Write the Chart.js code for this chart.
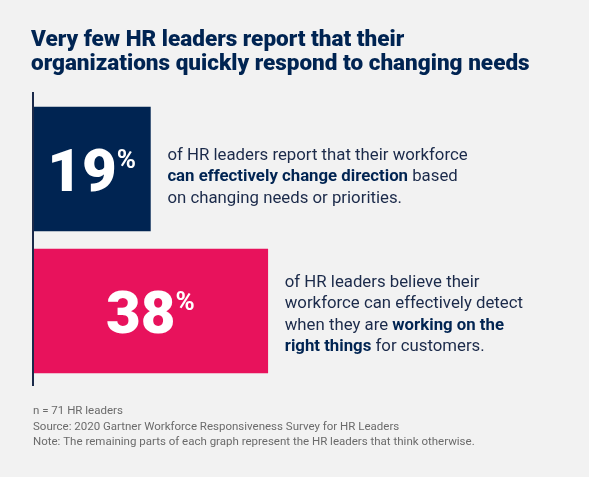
<!DOCTYPE html>
<html><head><meta charset="utf-8">
<script src="https://cdn.jsdelivr.net/npm/chart.js@4"></script>
<style>html,body{margin:0;background:#f2f2f2}#c{display:block}</style>
</head><body>
<div style="width:589px;height:477px"><canvas id="c"></canvas></div>
<script>
const categories = ['change direction', 'working on the right things'];
const values = [19, 38];
const barColors = ['#002452', '#e8125c'];
const titleLines = ['Very few HR leaders report that their', 'organizations quickly respond to changing needs'];
const descriptions = [
  [[['of HR leaders report that their workforce', false]],
   [['can effectively change direction', true], [' based', false]],
   [['on changing needs or priorities.', false]]],
  [[['of HR leaders believe their', false]],
   [['workforce can effectively detect', false]],
   [['when they are ', false], ['working on the', true]],
   [['right things', true], [' for customers.', false]]]
];
const footnotes = ['n = 71 HR leaders', 'Source: 2020 Gartner Workforce Responsiveness Survey for HR Leaders',
  'Note: The remaining parts of each graph represent the HR leaders that think otherwise.'];

const FONT = 'Roboto, "Noto Sans", sans-serif';

const textPlugin = {
  id: 'textPlugin',
  afterDraw(chart) {
    const ctx = chart.ctx;
    ctx.save();
    ctx.textBaseline = 'alphabetic';
    ctx.fillStyle = '#002452';
    ctx.font = '900 22.5px ' + FONT;
    titleLines.forEach((t, i) => ctx.fillText(t, 31, 46 + i * 24));
    // axis line
    ctx.fillStyle = '#1b2a4a';
    ctx.fillRect(32, 92, 2, 294);
    const meta = chart.getDatasetMeta(0);
    meta.data.forEach((bar, i) => {
      const cy = bar.y;
      // big number
      ctx.fillStyle = '#ffffff';
      ctx.font = '900 60px ' + FONT;
      const num = String(values[i]);
      const nw = ctx.measureText(num).width;
      ctx.font = 'bold 26px ' + FONT;
      const pw = ctx.measureText('%').width;
      const sx = 33 + (bar.x - 33 - nw - pw) / 2;
      ctx.font = '900 60px ' + FONT;
      ctx.fillText(num, sx, cy + 22);
      ctx.font = 'bold 26px ' + FONT;
      ctx.fillText('%', sx + nw, cy - 1);
      // description
      const lines = descriptions[i];
      const lh = 21.5;
      let y = cy - (lines.length - 1) * lh / 2 + 12;
      if (lines.length === 4) y -= 4;
      lines.forEach(line => {
        let x = bar.x + 17;
        line.forEach(([s, b]) => {
          ctx.font = (b ? 'bold ' : '') + '16.8px ' + FONT;
          ctx.fillStyle = b ? '#002452' : '#1b2a4a';
          ctx.fillText(s, x, y);
          x += ctx.measureText(s).width;
        });
        y += lh;
      });
    });
    ctx.fillStyle = '#6b6b6b';
    ctx.font = '11.5px ' + FONT;
    footnotes.forEach((t, i) => ctx.fillText(t, 33, 414 + i * 15.5));
    ctx.restore();
  }
};

new Chart(document.getElementById('c'), {
  type: 'bar',
  data: { labels: categories, datasets: [{ data: values, backgroundColor: barColors, barThickness: 124 }] },
  options: {
    indexAxis: 'y',
    responsive: true, maintainAspectRatio: false, animation: false,
    layout: { padding: { left: 33, right: 0, top: 98, bottom: 95 } },
    plugins: { legend: { display: false }, tooltip: { enabled: false } },
    scales: {
      x: { display: false, min: 0, max: 90 },
      y: { display: false }
    }
  },
  plugins: [textPlugin]
});
</script>
</body></html>
